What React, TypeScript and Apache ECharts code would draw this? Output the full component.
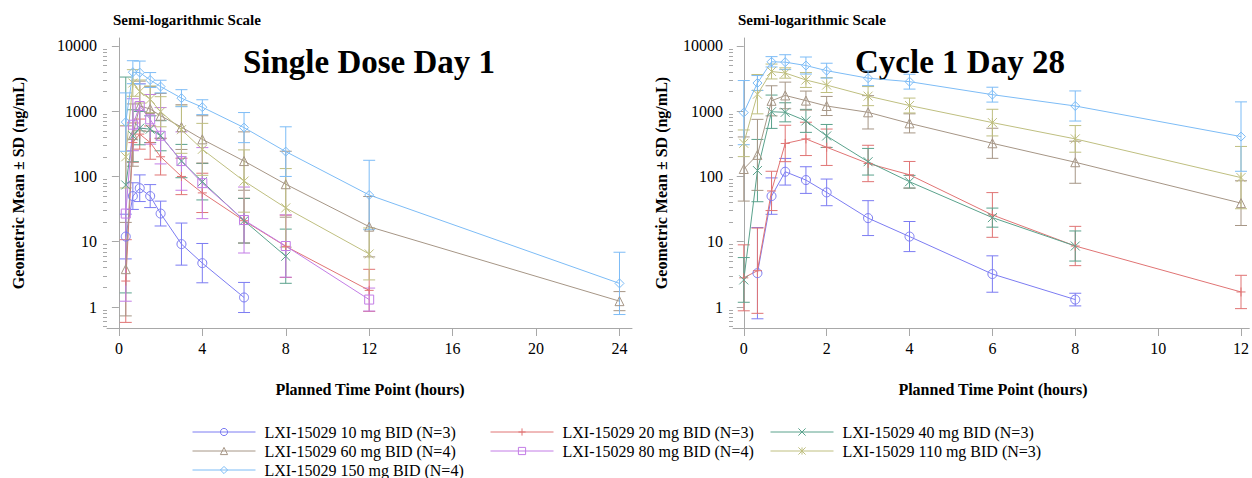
import React, { useEffect, useRef } from 'react';
import * as echarts from 'echarts';

// Planned time points (hours)
const TIMES_SD1 = [0.33, 0.67, 1, 1.5, 2, 3, 4, 6, 8, 12, 24];
const TIMES_C1D28 = [0, 0.33, 0.67, 1, 1.5, 2, 3, 4, 6, 8, 12];

const X_TICKS_SD1 = [0, 4, 8, 12, 16, 20, 24];
const X_TICKS_C1D28 = [0, 2, 4, 6, 8, 10, 12];
const Y_TICKS = [1, 10, 100, 1000, 10000];
const Y_MINOR = [0.5, 0.6, 0.7, 0.8, 0.9, 2, 3, 4, 5, 6, 7, 8, 9, 20, 30, 40, 50, 60, 70, 80, 90,
  200, 300, 400, 500, 600, 700, 800, 900, 2000, 3000, 4000, 5000, 6000, 7000, 8000, 9000];

const NAMES = [
  'LXI-15029 10 mg BID (N=3)',
  'LXI-15029 20 mg BID (N=3)',
  'LXI-15029 40 mg BID (N=3)',
  'LXI-15029 60 mg BID (N=4)',
  'LXI-15029 80 mg BID (N=4)',
  'LXI-15029 110 mg BID (N=3)',
  'LXI-15029 150 mg BID (N=4)',
];
const COLORS = ['#7c7cf2', '#e07474', '#5aa28c', '#a69686', '#c37de6', '#bfbf80', '#7dbcf6'];
const SYMBOLS = [
  'circle',
  'path://M5,0L5,10M0,5L10,5',
  'path://M0,0L10,10M10,0L0,10',
  'triangle',
  'rect',
  'path://M5,0L5,10M0,0L10,10M10,0L0,10',
  'diamond',
];

// Single Dose Day 1: geometric means (aligned to TIMES_SD1)
const SD1_10 = [12, 50, 66, 50, 27, 9.2, 4.7, 1.4, null, null, null];
const SD1_20 = [2.5, 330, 445, 330, 200, 100, 56, 21, 8.5, 1.8, null];
const SD1_40 = [74, 420, 550, 530, 420, 172, 83, 21, 6.0, null, null];
const SD1_60 = [3.8, 430, 1200, 1080, 850, 570, 370, 172, 76, 17, 1.23];
const SD1_80 = [27, 620, 1200, 750, 420, 172, 79, 21.5, 8.6, 1.3, null];
const SD1_110 = [200, 2700, 2000, 1520, 980, 520, 260, 85, 33, 6.5, null];
const SD1_150 = [680, 3950, 3900, 3000, 2380, 1580, 1150, 560, 240, 52, 2.3];

// Single Dose Day 1: geometric SD factors
const SD1_10_SD = [2.2, 1.6, 1.6, 1.5, 1.55, 2.1, 2.0, 1.7, null, null, null];
const SD1_20_SD = [4.3, 2.0, 1.7, 1.8, 1.9, 1.9, 2.0, 2.2, 3.0, 2.1, null];
const SD1_40_SD = [45, 2.5, 1.8, 1.6, 1.7, 1.8, 1.9, 2.2, 2.6, null, null];
const SD1_60_SD = [5.2, 3.0, 2.4, 2.2, 2.2, 2.2, 2.3, 2.8, 3.2, 2.9, 1.4];
const SD1_80_SD = [22, 2.5, 2.2, 2.4, 2.7, 2.8, 3.5, 3.2, 3.0, 1.5, null];
const SD1_110_SD = [3.0, 1.6, 1.5, 1.6, 1.7, 2.3, 2.5, 3.0, 4.0, 2.5, null];
const SD1_150_SD = [2.8, 1.5, 1.5, 1.3, 1.25, 1.35, 1.3, 1.7, 2.4, 3.4, 3.0];

// Cycle 1 Day 28: geometric means (aligned to TIMES_C1D28)
const C28_10 = [null, 3.3, 50, 118, 88, 57, 23, 12, 3.2, 1.3, null];
const C28_20 = [2.8, 3.6, 60, 320, 376, 280, 158, 106, 25.7, 8.6, 1.7];
const C28_40 = [2.6, 123, 980, 960, 710, 417, 168, 83, 23.4, 8.6, null];
const C28_60 = [130, 214, 1440, 1740, 1450, 1200, 960, 650, 322, 165, 39];
const C28_80 = [null, null, null, null, null, null, null, null, null, null, null];
const C28_110 = [322, 1820, 4050, 3840, 3000, 2510, 1700, 1220, 668, 376, 96];
const C28_150 = [950, 2700, 5700, 5630, 5000, 4170, 3200, 2830, 1790, 1200, 408];

// Cycle 1 Day 28: geometric SD factors
const C28_10_SD = [null, 5.0, 1.9, 1.6, 1.6, 1.6, 1.85, 1.7, 1.9, 1.25, null];
const C28_20_SD = [3.2, 4.5, 2.0, 1.9, 1.8, 1.9, 1.9, 1.6, 2.2, 2.0, 1.8];
const C28_40_SD = [2.2, 3.0, 1.8, 1.4, 1.5, 1.5, 1.6, 1.25, 1.4, 1.7, null];
const C28_60_SD = [3.1, 3.5, 1.7, 1.6, 1.4, 1.4, 1.8, 1.4, 1.7, 2.1, 2.2];
const C28_80_SD = [null, null, null, null, null, null, null, null, null, null, null];
const C28_110_SD = [1.6, 2.0, 1.3, 1.2, 1.3, 1.3, 1.4, 1.3, 1.6, 1.6, 3.0];
const C28_150_SD = [3.1, 1.3, 1.2, 1.3, 1.35, 1.3, 1.3, 1.3, 1.3, 1.7, 3.4];

const SD1_MEANS = [SD1_10, SD1_20, SD1_40, SD1_60, SD1_80, SD1_110, SD1_150];
const SD1_SDS = [SD1_10_SD, SD1_20_SD, SD1_40_SD, SD1_60_SD, SD1_80_SD, SD1_110_SD, SD1_150_SD];
const C28_MEANS = [C28_10, C28_20, C28_40, C28_60, C28_80, C28_110, C28_150];
const C28_SDS = [C28_10_SD, C28_20_SD, C28_40_SD, C28_60_SD, C28_80_SD, C28_110_SD, C28_150_SD];

// legend layout: [series index, column, row]
const LEGEND_COLS = [187, 485, 765];
const LEGEND_ROWS = [419, 438, 457];
const LEGEND_CELLS = [
  [0, 0, 0], [1, 1, 0], [2, 2, 0],
  [3, 0, 1], [4, 1, 1], [5, 2, 1],
  [6, 0, 2],
];

const FONT = 'Liberation Serif, serif';
const AXIS_GRAY = '#a8a8a8';
const Y_MIN = 0.477;
const Y_MAX = 13200;

function buildPanel(gridIndex: number, times: number[], means: (number | null)[][], sds: (number | null)[][]) {
  const series: any[] = [];
  means.forEach((vals, i) => {
    if (vals.every((v) => v == null)) return;
    const color = COLORS[i];
    series.push({
      type: 'line',
      name: NAMES[i],
      xAxisIndex: gridIndex,
      yAxisIndex: gridIndex * 2,
      data: times.map((t, k) => [t, vals[k]]).filter((d) => d[1] != null),
      symbol: SYMBOLS[i],
      symbolSize: 9,
      showAllSymbol: true,
      lineStyle: { color, width: 1 },
      itemStyle: { color: 'rgba(0,0,0,0)', borderColor: color, borderWidth: 1 },
      z: 3,
    });
    const eb: any[] = [];
    times.forEach((t, k) => {
      const m = vals[k];
      const f = sds[i][k];
      if (m == null || f == null) return;
      eb.push([t, m / f, m * f]);
    });
    series.push({
      type: 'custom',
      name: 'eb_' + gridIndex + '_' + i,
      xAxisIndex: gridIndex,
      yAxisIndex: gridIndex * 2,
      data: eb,
      encode: { x: 0, y: [1, 2] },
      clip: true,
      z: 2,
      renderItem: (params: any, api: any) => {
        const x = api.value(0);
        const lo = api.value(1);
        const hi = api.value(2);
        const top = api.coord([x, hi]);
        const bot = api.coord([x, lo]);
        const hw = 6;
        const style = { stroke: color, lineWidth: 1, fill: 'none' };
        return {
          type: 'group',
          children: [
            { type: 'line', shape: { x1: top[0], y1: top[1], x2: bot[0], y2: bot[1] }, style },
            { type: 'line', shape: { x1: top[0] - hw, y1: top[1], x2: top[0] + hw, y2: top[1] }, style },
            { type: 'line', shape: { x1: bot[0] - hw, y1: bot[1], x2: bot[0] + hw, y2: bot[1] }, style },
          ],
        };
      },
    });
  });
  return series;
}

function xAxis(gridIndex: number, min: number, max: number, ticks: number[]) {
  return {
    type: 'value',
    gridIndex,
    min,
    max,
    axisLine: { show: true, lineStyle: { color: AXIS_GRAY, width: 1 } },
    axisTick: { show: true, customValues: ticks, length: 8, lineStyle: { color: AXIS_GRAY } },
    axisLabel: { customValues: ticks, margin: 12, fontSize: 16, color: '#000', fontFamily: FONT },
    splitLine: { show: false },
  };
}

function yAxes(gridIndex: number) {
  return [
    {
      type: 'log',
      gridIndex,
      min: Y_MIN,
      max: Y_MAX,
      logBase: 10,
      axisLine: { show: true, lineStyle: { color: AXIS_GRAY, width: 1 } },
      axisTick: { show: true, customValues: Y_TICKS, length: 7, lineStyle: { color: AXIS_GRAY } },
      axisLabel: {
        customValues: Y_TICKS,
        margin: 10,
        fontSize: 16,
        color: '#000',
        fontFamily: FONT,
        formatter: (v: number) => String(Math.round(v)),
      },
      splitLine: { show: false },
    },
    {
      type: 'log',
      gridIndex,
      min: Y_MIN,
      max: Y_MAX,
      logBase: 10,
      position: 'left',
      axisLine: { show: false },
      axisTick: { show: true, customValues: Y_MINOR, length: 4, lineStyle: { color: AXIS_GRAY } },
      axisLabel: { show: false },
      splitLine: { show: false },
    },
  ];
}

function legends() {
  return LEGEND_CELLS.map(([i, c, r]) => ({
    orient: 'horizontal',
    left: LEGEND_COLS[c],
    top: LEGEND_ROWS[r],
    itemWidth: 63,
    itemHeight: 9,
    selectedMode: false,
    data: [NAMES[i]],
    lineStyle: { width: 1 },
    itemStyle: { borderWidth: 1 },
    textStyle: { fontSize: 16, color: '#000', fontFamily: FONT, padding: [0, 0, 0, 4] },
  }));
}

export default function App() {
  const ref = useRef<HTMLDivElement>(null);
  useEffect(() => {
    if (!ref.current) return;
    const chart = echarts.init(ref.current, null, { renderer: 'svg' });
    const option: any = {
      animation: false,
      backgroundColor: '#fff',
      textStyle: { fontFamily: FONT },
      grid: [
        { left: 107, top: 38, width: 525, height: 290 },
        { left: 733, top: 38, width: 519, height: 290 },
      ],
      xAxis: [xAxis(0, -0.57, 24.6, X_TICKS_SD1), xAxis(1, -0.26, 12.2, X_TICKS_C1D28)],
      yAxis: [...yAxes(0), ...yAxes(1)],
      legend: legends(),
      series: [
        ...buildPanel(0, TIMES_SD1, SD1_MEANS, SD1_SDS),
        ...buildPanel(1, TIMES_C1D28, C28_MEANS, C28_SDS),
      ],
      graphic: [
        { type: 'text', x: 113, y: 20, style: { text: 'Semi-logarithmic Scale', fontFamily: FONT, fontSize: 15, fontWeight: 'bold', fill: '#000', verticalAlign: 'middle' } },
        { type: 'text', x: 738, y: 20, style: { text: 'Semi-logarithmic Scale', fontFamily: FONT, fontSize: 15, fontWeight: 'bold', fill: '#000', verticalAlign: 'middle' } },
        { type: 'text', x: 243, y: 62, style: { text: 'Single Dose Day 1', fontFamily: FONT, fontSize: 33, fontWeight: 'bold', fill: '#000', verticalAlign: 'middle' } },
        { type: 'text', x: 855, y: 62, style: { text: 'Cycle 1 Day 28', fontFamily: FONT, fontSize: 33, fontWeight: 'bold', fill: '#000', verticalAlign: 'middle' } },
        { type: 'text', x: 18, y: 183, rotation: Math.PI / 2, style: { text: 'Geometric Mean \u00b1 SD (ng/mL)', fontFamily: FONT, fontSize: 16, fontWeight: 'bold', fill: '#000', align: 'center', verticalAlign: 'middle' } },
        { type: 'text', x: 661, y: 183, rotation: Math.PI / 2, style: { text: 'Geometric Mean \u00b1 SD (ng/mL)', fontFamily: FONT, fontSize: 16, fontWeight: 'bold', fill: '#000', align: 'center', verticalAlign: 'middle' } },
        { type: 'text', x: 370, y: 389, style: { text: 'Planned Time Point (hours)', fontFamily: FONT, fontSize: 16, fontWeight: 'bold', fill: '#000', align: 'center', verticalAlign: 'middle' } },
        { type: 'text', x: 993, y: 389, style: { text: 'Planned Time Point (hours)', fontFamily: FONT, fontSize: 16, fontWeight: 'bold', fill: '#000', align: 'center', verticalAlign: 'middle' } },
      ],
    };
    chart.setOption(option);
    return () => chart.dispose();
  }, []);
  return <div ref={ref} style={{ position: 'absolute', left: 0, top: 0, width: 1252, height: 478 }} />;
}
